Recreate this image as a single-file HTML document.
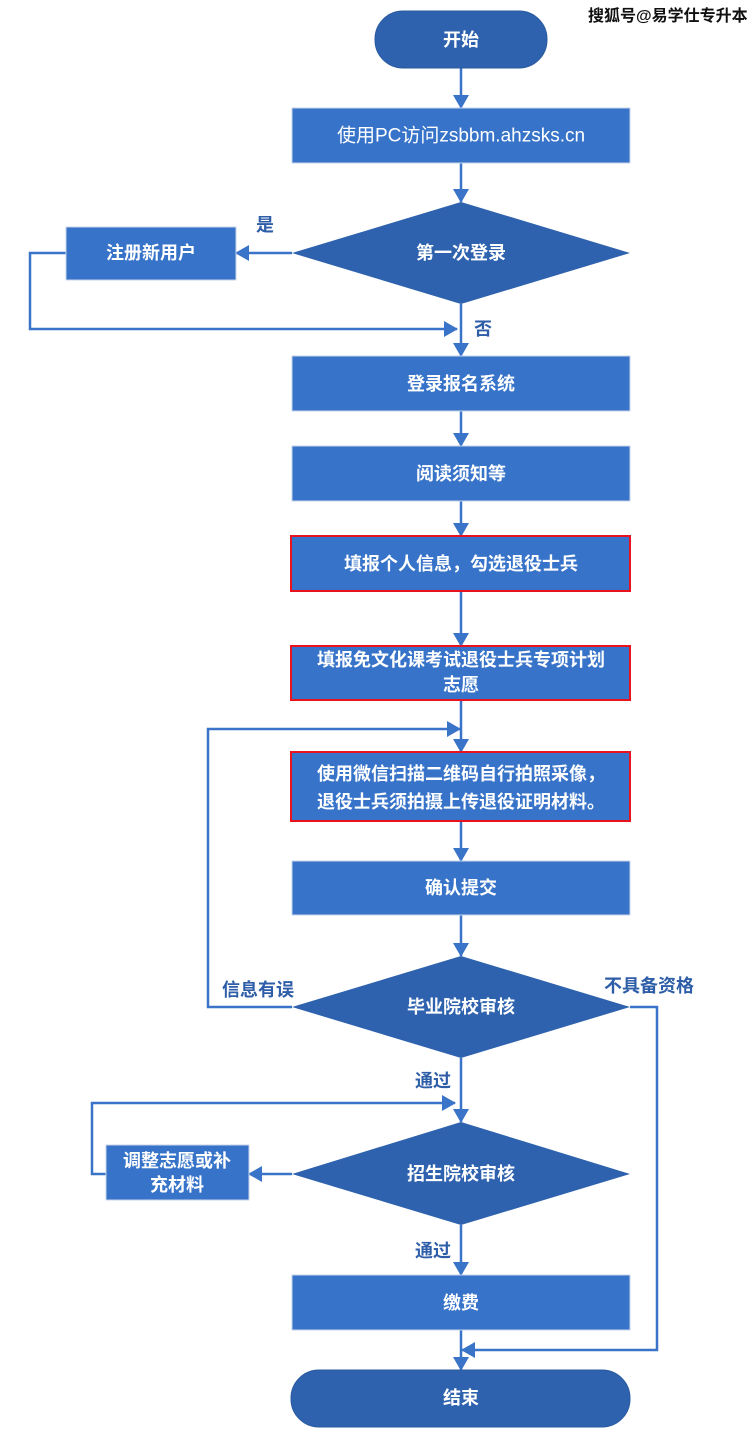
<!DOCTYPE html>
<html><head><meta charset="utf-8"><style>
html,body{margin:0;padding:0;background:#fff;}
svg{display:block;}
text{font-family:"Liberation Sans","Noto Sans CJK SC",sans-serif;}
.w{fill:#fff;font-size:18px;font-weight:bold;text-anchor:middle;dominant-baseline:central;}
.l{fill:#2f5ea8;font-size:18px;font-weight:bold;}
</style></head><body>
<svg width="756" height="1450" viewBox="0 0 756 1450" xmlns="http://www.w3.org/2000/svg">
<defs>
<marker id="b" markerWidth="14" markerHeight="16" refX="13" refY="8" orient="auto" markerUnits="userSpaceOnUse" viewBox="0 0 14 16">
<path d="M0,0 L14,8 L0,16 z" fill="#3a74c8"/></marker>
</defs>
<g stroke="#3a74c8" stroke-width="2.5" fill="none">
<line x1="461" y1="68" x2="461" y2="108" marker-end="url(#b)"/>
<line x1="461" y1="163" x2="461" y2="202" marker-end="url(#b)"/>
<line x1="292" y1="253" x2="236" y2="253" marker-end="url(#b)"/>
<polyline points="66,253 30,253 30,329 457,329" marker-end="url(#b)"/>
<line x1="461" y1="304" x2="461" y2="356" marker-end="url(#b)"/>
<line x1="461" y1="411" x2="461" y2="446" marker-end="url(#b)"/>
<line x1="461" y1="501" x2="461" y2="536" marker-end="url(#b)"/>
<line x1="461" y1="591" x2="461" y2="646" marker-end="url(#b)"/>
<line x1="461" y1="700" x2="461" y2="752" marker-end="url(#b)"/>
<polyline points="292,1007 208,1007 208,729 460,729" marker-end="url(#b)"/>
<line x1="461" y1="821" x2="461" y2="861" marker-end="url(#b)"/>
<line x1="461" y1="915" x2="461" y2="956" marker-end="url(#b)"/>
<polyline points="630,1007 657,1007 657,1350 462,1350" marker-end="url(#b)"/>
<line x1="461" y1="1058" x2="461" y2="1122" marker-end="url(#b)"/>
<line x1="292" y1="1174" x2="249" y2="1174" marker-end="url(#b)"/>
<polyline points="106,1174 92,1174 92,1103 455,1103" marker-end="url(#b)"/>
<line x1="461" y1="1225" x2="461" y2="1275" marker-end="url(#b)"/>
<line x1="461" y1="1330" x2="461" y2="1370" marker-end="url(#b)"/>
</g>
<rect x="375" y="11" width="172" height="57" rx="28" fill="#2e62ae" stroke="#2a5a9f"/>
<text class="w" x="461" y="40">开始</text>
<rect x="292" y="108" width="338" height="55" fill="#3673c9" stroke="#c9d6ea"/>
<text class="w" x="461" y="136" style="font-weight:normal;font-size:19px">使用PC访问zsbbm.ahzsks.cn</text>
<polygon points="461,202 630,253 461,304 292,253" fill="#2e62ae"/>
<text class="w" x="461" y="253">第一次登录</text>
<rect x="66" y="227" width="170" height="53" fill="#3673c9" stroke="#c9d6ea"/>
<text class="w" x="151" y="253">注册新用户</text>
<rect x="292" y="356" width="338" height="55" fill="#3673c9" stroke="#c9d6ea"/>
<text class="w" x="461" y="384">登录报名系统</text>
<rect x="292" y="446" width="338" height="55" fill="#3673c9" stroke="#c9d6ea"/>
<text class="w" x="461" y="474">阅读须知等</text>
<rect x="291" y="536" width="339" height="55" fill="#3673c9" stroke="#e8131f" stroke-width="2"/>
<text class="w" x="461" y="564">填报个人信息，勾选退役士兵</text>
<rect x="291" y="646" width="339" height="54" fill="#3673c9" stroke="#e8131f" stroke-width="2"/>
<text class="w" x="461" y="660">填报免文化课考试退役士兵专项计划</text>
<text class="w" x="461" y="685">志愿</text>
<rect x="291" y="752" width="339" height="69" fill="#3673c9" stroke="#e8131f" stroke-width="2"/>
<text class="w" x="461" y="774">使用微信扫描二维码自行拍照采像，</text>
<text class="w" x="461" y="802">退役士兵须拍摄上传退役证明材料。</text>
<rect x="292" y="861" width="338" height="54" fill="#3673c9" stroke="#c9d6ea"/>
<text class="w" x="461" y="888">确认提交</text>
<polygon points="461,956 630,1007 461,1058 292,1007" fill="#2e62ae"/>
<text class="w" x="461" y="1007">毕业院校审核</text>
<polygon points="461,1122 630,1174 461,1225 292,1174" fill="#2e62ae"/>
<text class="w" x="461" y="1174">招生院校审核</text>
<rect x="106" y="1145" width="143" height="55" fill="#3673c9" stroke="#c9d6ea"/>
<text class="w" x="177" y="1161">调整志愿或补</text>
<text class="w" x="177" y="1185">充材料</text>
<rect x="292" y="1275" width="338" height="55" fill="#3673c9" stroke="#c9d6ea"/>
<text class="w" x="461" y="1303">缴费</text>
<rect x="291" y="1370" width="339" height="57" rx="28" fill="#2e62ae" stroke="#2a5a9f"/>
<text class="w" x="461" y="1398">结束</text>
<text class="l" x="256" y="231">是</text>
<text class="l" x="474" y="335">否</text>
<text class="l" x="222" y="996">信息有误</text>
<text class="l" x="604" y="992">不具备资格</text>
<text class="l" x="415" y="1087">通过</text>
<text class="l" x="415" y="1257">通过</text>
<text x="588" y="21" style="font-size:16px;fill:#111;font-weight:bold">搜狐号@易学仕专升本</text>
</svg>
</body></html>
